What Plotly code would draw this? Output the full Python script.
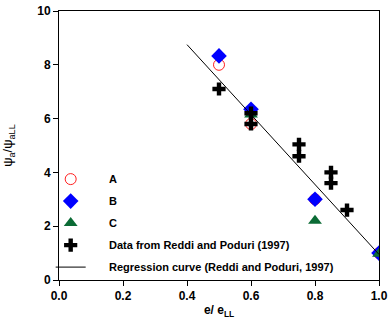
import plotly.graph_objects as go

# Data
a_x = [0.5, 0.6, 0.8, 1.0]
a_y = [8.0, 5.8, 3.0, 1.0]
b_x = [0.5, 0.6, 0.8, 1.0]
b_y = [8.33, 6.35, 3.0, 1.0]
c_x = [0.6, 0.8, 1.0]
c_y = [6.15, 2.2, 0.98]
rp_x = [0.5, 0.6, 0.6, 0.75, 0.75, 0.85, 0.85, 0.9]
rp_y = [7.1, 6.2, 5.8, 5.04, 4.6, 4.0, 3.6, 2.6]
reg_x = [0.4, 1.0]
reg_y = [8.75, 0.95]

x_ticks = [0.0, 0.2, 0.4, 0.6, 0.8, 1.0]
x_ticklabels = ["0.0", "0.2", "0.4", "0.6", "0.8", "1.0"]
y_ticks = [0, 2, 4, 6, 8, 10]

FONT = "Liberation Sans, Arial, sans-serif"
PAD = "\u00a0" * 6

fig = go.Figure()
fig.add_trace(go.Scatter(x=a_x, y=a_y, mode="markers",
                         marker=dict(symbol="circle-open", size=11, color="#ff2020", line=dict(width=1)),
                         name=PAD + "<b>A</b>", legendgroup="a"))
fig.add_trace(go.Scatter(x=b_x, y=b_y, mode="markers",
                         marker=dict(symbol="diamond", size=12, color="#0000ff"),
                         name=PAD + "<b>B</b>", legendgroup="b"))
fig.add_trace(go.Scatter(x=c_x, y=c_y, mode="markers",
                         marker=dict(symbol="triangle-up", size=12, color="#0b6b35"),
                         name=PAD + "<b>C</b>", legendgroup="c"))
fig.add_trace(go.Scatter(x=rp_x, y=rp_y, mode="markers",
                         marker=dict(symbol="cross", size=11, color="black"),
                         name=PAD + "<b>Data from Reddi and Poduri (1997)</b>", legendgroup="d"))
fig.add_trace(go.Scatter(x=reg_x, y=reg_y, mode="lines", line=dict(color="black", width=1),
                         name=PAD + "<b>Regression curve (Reddi and Poduri, 1997)</b>", legendgroup="e"))

fig.update_layout(
    width=388, height=320,
    margin=dict(l=59, r=9, t=11, b=40),
    paper_bgcolor="white", plot_bgcolor="white",
    font=dict(family=FONT, size=12, color="black"),
    showlegend=True,
    legend=dict(x=-0.026, y=0.429, xanchor="left", yanchor="top",
                bgcolor="rgba(0,0,0,0)", font=dict(size=11, family=FONT),
                traceorder="grouped", tracegroupgap=3, itemwidth=30),
    xaxis=dict(range=[0, 1.0], tickvals=x_ticks, ticktext=["<b>%s</b>" % t for t in x_ticklabels],
               showgrid=False, zeroline=False, showline=True, linecolor="black", linewidth=1,
               mirror=True, ticks="outside", ticklen=5, tickcolor="black", automargin=False,
               ticklabeloverflow="allow", tickfont=dict(size=12),
               title=dict(text="<b>e/ e<sub>LL</sub></b>", standoff=3, font=dict(size=12))),
    yaxis=dict(range=[0, 10], tickvals=y_ticks, ticktext=["<b>%d</b>" % t for t in y_ticks],
               showgrid=False, zeroline=False, showline=True, linecolor="black", linewidth=1,
               mirror=True, ticks="outside", ticklen=5, tickcolor="black", automargin=False,
               ticklabeloverflow="allow", tickfont=dict(size=12),
               title=dict(text="ψ<sub>a</sub>/ψ<sub>aLL</sub>", standoff=21, font=dict(size=13))),
)

fig.write_html("out.html", config={"displayModeBar": False},
               post_script="document.body.style.margin='0';document.body.style.overflow='hidden';")
